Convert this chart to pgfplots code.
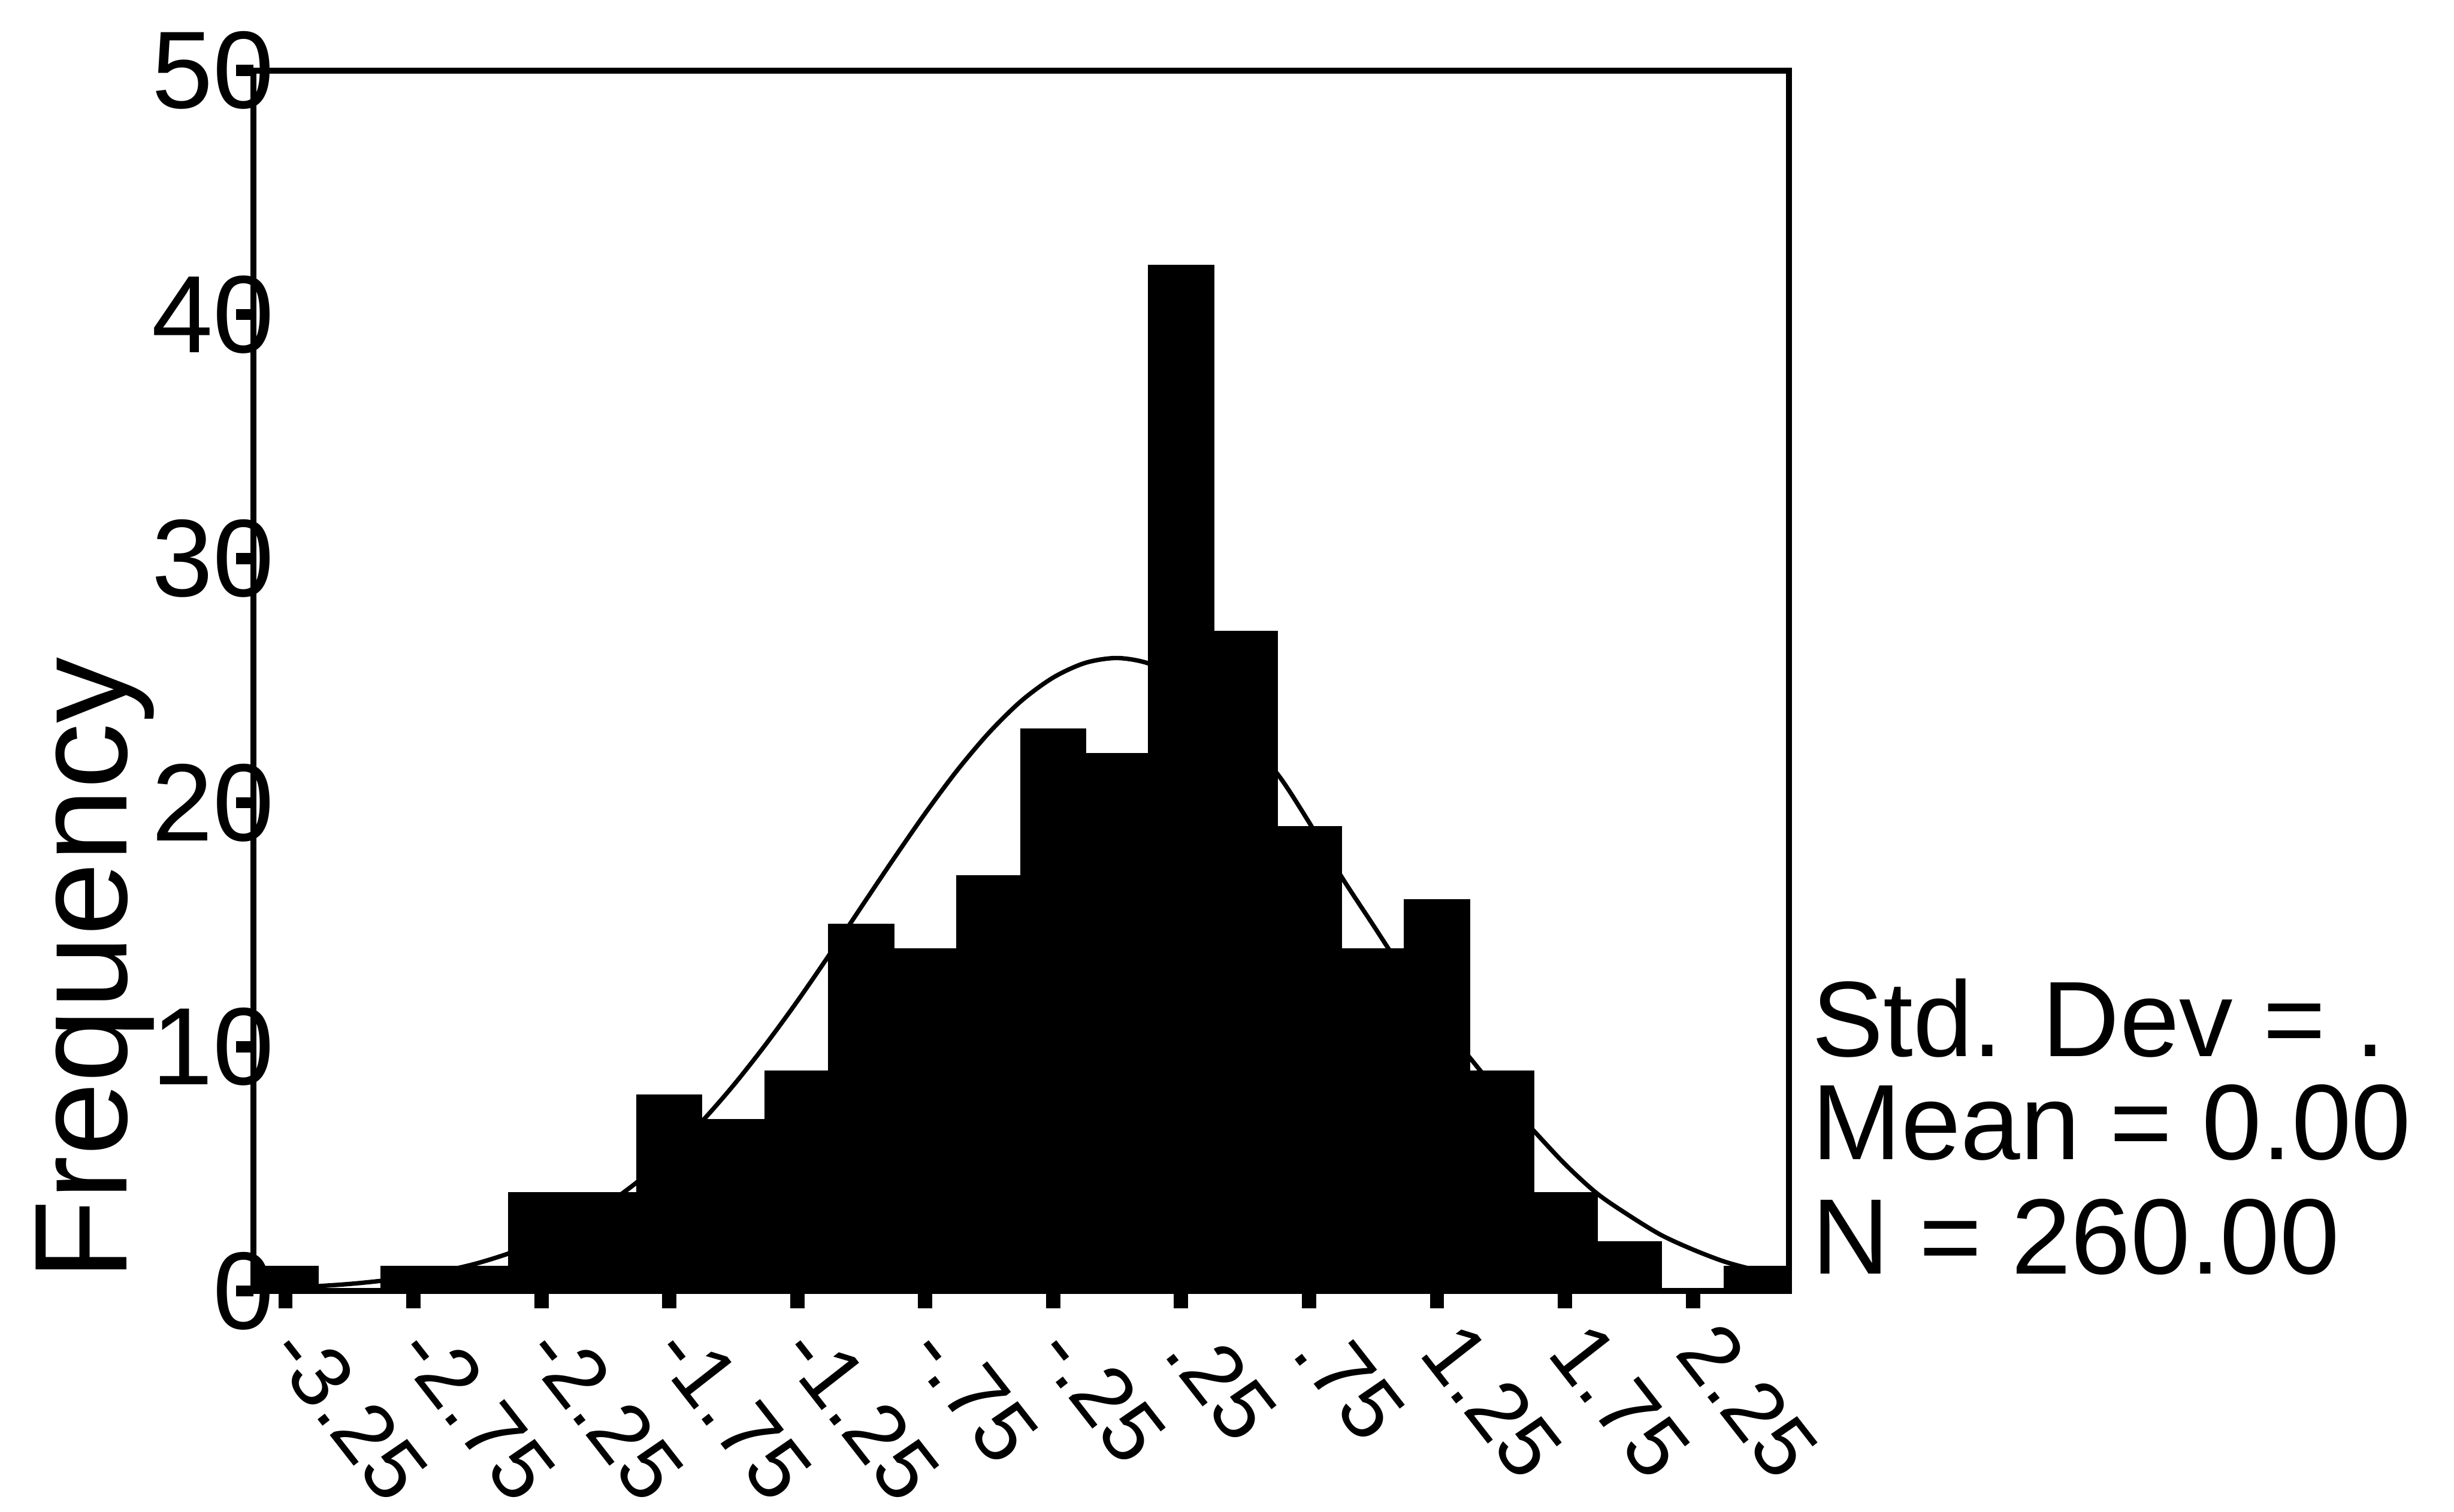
\documentclass[border=0pt]{standalone}
\usepackage{pgfplots}
\pgfplotsset{compat=1.18}
\usepackage{fontspec}
\setmainfont{Liberation Sans}
\begin{document}
\begin{tikzpicture}
\path[use as bounding box] (-1.62,-1.41) rectangle (14.06,8.25);
\begin{axis}[
  at={(0,0)}, anchor=south west,
  scale only axis, width=9.81cm, height=7.8cm,
  xmin=-3.375, xmax=2.625, ymin=0, ymax=50,
  axis line style={line width=1.1pt},
  tick pos=left, tick align=outside,
  xtick={-3.25,-2.75,-2.25,-1.75,-1.25,-0.75,-0.25,0.25,0.75,1.25,1.75,2.25},
  xticklabels={-3.25,-2.75,-2.25,-1.75,-1.25,-.75,-.25,.25,.75,1.25,1.75,2.25},
  ytick={0,10,20,30,40,50},
  /pgf/number format/assume math mode=true,
  x tick style={line width=2.6pt, black},
  y tick style={line width=2pt, black},
  major tick length=0.11cm,
  xticklabel style={yshift=-0.17cm, xshift=0.02cm, rotate=-52, anchor=west, inner sep=0pt, font=\fontsize{15.5}{18}\selectfont},
  yticklabel style={anchor=east, inner sep=0pt, xshift=0.25cm, font=\fontsize{20}{24}\selectfont},
  ylabel={Frequency},
  ylabel style={at={(axis description cs:-0.0826,0.264)}, anchor=base, font=\fontsize{24}{28}\selectfont},
]
\addplot[ybar interval, fill=black, draw=black, line width=0.4pt] coordinates {
(-3.375,1) (-3.125,0) (-2.875,1) (-2.625,1) (-2.375,4) (-2.125,4)
(-1.875,8) (-1.625,7) (-1.375,9) (-1.125,15) (-0.875,14) (-0.625,17)
(-0.375,23) (-0.125,22) (0.125,42) (0.375,27) (0.625,19) (0.875,14)
(1.125,16) (1.375,9) (1.625,4) (1.875,2) (2.125,0) (2.375,1) (2.625,1)
};
\addplot[black, line width=0.8pt, smooth] coordinates {
(-3.375,0.09) (-3.25,0.13) (-3.125,0.20) (-3.0,0.29) (-2.875,0.42)
(-2.75,0.59) (-2.625,0.83) (-2.5,1.14) (-2.375,1.55) (-2.25,2.06)
(-2.125,2.71) (-2.0,3.51) (-1.875,4.47) (-1.75,5.61) (-1.625,6.92)
(-1.5,8.42) (-1.375,10.08) (-1.25,11.87) (-1.125,13.77) (-1.0,15.73)
(-0.875,17.68) (-0.75,19.57) (-0.625,21.33) (-0.5,22.88) (-0.375,24.17)
(-0.25,25.13) (-0.125,25.73) (0,25.93) (0.125,25.7) (0.25,25.0)
(0.375,23.9) (0.5,22.5) (0.625,21.2) (0.75,19.2) (0.875,17.0)
(1.0,15.0) (1.125,13.0) (1.25,11.2) (1.375,9.6) (1.5,8.0)
(1.625,6.6) (1.75,5.2) (1.875,4.0) (2.0,3.1) (2.125,2.3)
(2.25,1.7) (2.375,1.2) (2.5,0.85) (2.625,0.6)
};
\end{axis}
\node[anchor=base west, inner sep=0pt, font=\fontsize{19.5}{23}\selectfont] at (9.95,1.50) {Std. Dev = .};
\node[anchor=base west, inner sep=0pt, font=\fontsize{19.5}{23}\selectfont] at (9.95,0.84) {Mean = 0.00};
\node[anchor=base west, inner sep=0pt, font=\fontsize{19.5}{23}\selectfont] at (9.95,0.11) {N = 260.00};
\end{tikzpicture}
\end{document}
